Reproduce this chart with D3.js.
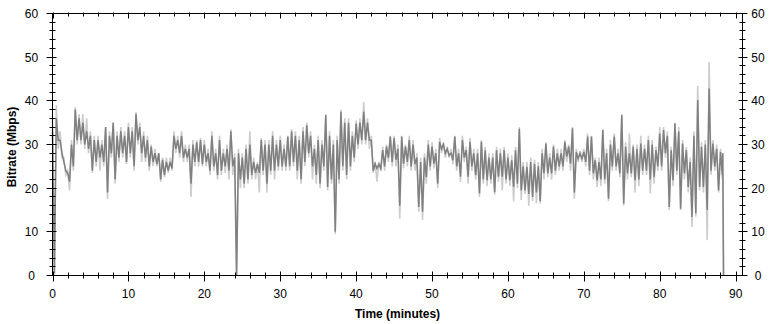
<!DOCTYPE html>
<html>
<head>
<meta charset="utf-8">
<script src="https://cdn.jsdelivr.net/npm/d3@7/dist/d3.min.js"></script>
<style>
  html, body { margin: 0; padding: 0; background: #fff; }
  svg { display: block; }
  .tick-label { font-family: "Liberation Sans", Arial, sans-serif; font-size: 12px; fill: #000; }
  .axis-title { font-family: "Liberation Sans", Arial, sans-serif; font-size: 12px; font-weight: bold; fill: #000; }
</style>
</head>
<body>
<div id="chart"></div>
<script>
// bitrate trace — dark = bitrate, light = short-term peaks behind it
// one entry per half minute, starting at minute 0

var sampleStep = 0.5;

var bitrateHigh = [
  33, 36, 31, 26, 23.5, 30, 38, 36, 35, 33,
  32, 31, 31, 30, 34, 32, 35, 32, 33, 32,
  34, 33, 37, 34, 32, 31, 29.5, 28, 28, 26.5,
  26, 26, 32, 31, 32, 29, 29, 30, 30.5, 31,
  30, 28, 32, 28, 31, 28, 29, 33, 27, 28,
  27, 29, 30, 26, 25.5, 31, 30, 30, 32, 30,
  31, 29, 31.8, 33, 32, 31, 33, 34.4, 32, 29,
  31, 30, 36.7, 32, 30, 31, 37.5, 35, 35, 32,
  34.8, 35, 37.5, 35, 31, 25.6, 25.5, 28.7, 29.5, 31.8,
  31.5, 29, 31.8, 29.5, 31, 30, 27, 26, 27, 30,
  29.5, 28, 30.6, 30, 29, 28, 31.8, 28, 31, 28.7,
  30.6, 28, 28, 30.6, 28.7, 27, 27, 28.7, 28, 28.7,
  27, 26.4, 28.7, 33.6, 25, 24.9, 26, 25.6, 25, 28,
  30.2, 27, 29.5, 28, 28, 30.6, 29.5, 33.7, 28.3, 28,
  28.3, 31.8, 31.8, 26.4, 26, 33.3, 28, 30, 31.8, 28,
  36.7, 29.5, 28, 29.5, 29, 30.2, 29, 31, 30, 28.7,
  32.5, 33.3, 32, 28.7, 34.8, 33, 30.2, 28.7, 26, 32,
  40.2, 29.5, 30, 42.8, 30.2, 29, 28.3
];

var bitrateLow = [
  0.5, 31, 28, 24, 21.5, 25, 31, 31, 30, 29,
  24, 26, 27, 26, 19, 28, 22, 27, 28, 26,
  28, 25, 31, 28, 27, 25, 26, 25.5, 22, 23,
  24, 24.5, 29, 28, 27, 27, 21, 26, 26, 25.5,
  26, 24, 25, 23, 24, 25, 24, 25, 0, 22,
  21, 22, 23, 23.5, 23.5, 24, 21, 24, 24, 25,
  25, 25, 25, 26, 24, 22, 26, 28, 25, 23,
  21, 25, 20.3, 22, 10, 22, 25, 23, 25, 27,
  30, 31, 31, 31, 24, 24.5, 24.5, 25, 27, 26,
  26.5, 16, 25.6, 26, 25, 25.5, 15.7, 14.6, 22.5, 25,
  25.6, 21, 29, 28, 27.5, 26.4, 25, 22.6, 27, 22.6,
  25, 23, 18.8, 22, 21.8, 22, 19.1, 22.6, 22.6, 22,
  21.8, 20.3, 21, 19.5, 19.5, 18.7, 18, 19, 17, 23.4,
  23.4, 23.4, 24, 25, 25, 27.2, 25.6, 19, 26.8, 26.8,
  26, 24, 23.4, 21.8, 22, 22, 17.6, 25, 25, 23.4,
  16.5, 23.4, 23.4, 21.8, 22, 24, 24, 22, 22.5, 25,
  25, 28, 15.7, 21.8, 24, 15.3, 23.4, 20.3, 13.4, 14.2,
  20.3, 20.3, 15, 24, 25, 19.5, 23
];

var peakHigh = [
  36, 39, 33, 27, 24, 31, 38.5, 37, 37, 36,
  33, 32, 32, 31, 34, 33, 35, 33, 34, 33,
  35, 34, 37.5, 35, 33, 32, 30, 29, 28, 27,
  27, 27, 33, 32, 33, 30, 30, 31, 31, 31.5,
  31, 29, 33, 29, 32, 29, 30, 33.5, 28, 29,
  28, 30, 33, 27, 26, 31.5, 31, 31, 33, 31,
  32, 30, 32, 33.5, 33, 32, 34, 35, 33, 30,
  32, 31, 37, 33, 31, 32, 38, 36, 36, 33,
  35.5, 36, 39.8, 36, 32, 26, 26, 29.5, 30, 32,
  32, 30, 32, 30, 32, 31, 28, 27, 28, 31,
  30.5, 29, 31.5, 30.5, 29.5, 29, 32, 29, 32, 29.5,
  31.5, 29, 29, 31, 29.5, 28, 28, 29.5, 29, 29.5,
  28, 27.5, 29.5, 34, 26, 26, 27, 26.5, 26, 29,
  30.5, 28, 30, 29, 29, 31, 30, 34, 29, 28.5,
  29, 32.5, 32, 27, 27, 33.5, 29, 31, 32.5, 29,
  37, 30.5, 32.5, 30, 30, 32, 30, 32, 31, 29.5,
  34, 34, 33, 29.5, 35, 34, 31, 29.5, 27, 33,
  43.4, 30.5, 31, 48.9, 31, 30, 29
];

var peakLow = [
  0, 29, 27, 23, 19.5, 24, 30, 30, 29, 28,
  23.5, 25, 24, 25, 17.5, 27, 21, 26, 27, 25.5,
  27, 24, 30, 26, 26, 24, 25, 25, 21.5, 22.5,
  23.5, 24, 28, 27, 26, 26, 18, 25, 25, 25,
  25, 23, 24, 22, 23, 23.5, 22, 23, 0, 20,
  20, 21, 22, 22, 19, 23, 19, 23, 22, 24,
  24, 24, 24, 25, 22, 21, 25, 27, 22, 21,
  20, 24, 19.5, 21, 9.5, 21, 24, 22, 24, 26,
  29, 30, 30, 29, 23.5, 21.5, 24, 24, 26, 25,
  25, 13, 24.5, 25, 24, 24, 14.6, 12.7, 21, 24,
  24.5, 20, 28, 27, 27, 25.5, 24, 21.5, 26, 21,
  24, 22, 18, 21, 20.5, 21, 18.5, 21.5, 19.5, 21,
  20.5, 17, 20, 17.3, 18.7, 16, 17, 16.5, 16.5, 22,
  22.5, 22, 23, 24, 24, 26, 24, 17.6, 26, 26,
  25, 23, 22, 20.3, 20.5, 21, 17, 24, 24, 22.5,
  16, 22, 22.5, 19, 20.5, 23, 23, 18.8, 21, 24,
  24, 27, 15, 20.5, 23, 15, 22, 19, 11.1, 13.5,
  19.5, 19, 8.1, 23, 24, 19, 22
];

// trace ends with a drop to zero
var tailMinutes = [88.3, 88.4];
var tailValues = [28, 0];

var xTicks = [0, 10, 20, 30, 40, 50, 60, 70, 80, 90];
var yTicks = [0, 10, 20, 30, 40, 50, 60];

var WIDTH = 774, HEIGHT = 324;
var LEFT = 52.5, RIGHT = 742.5, TOP = 13.5, BOTTOM = 275.5;

function buildTrace(high, low){
  var pts = [];
  high.forEach(function(h, i){
    pts.push([i * sampleStep, h]);
    pts.push([i * sampleStep + sampleStep / 2, low[i]]);
  });
  tailMinutes.forEach(function(t, i){ pts.push([t, tailValues[i]]); });
  return pts;
}

function render(){
  var svg = d3.select('#chart').append('svg')
    .attr('width', WIDTH)
    .attr('height', HEIGHT);

  var x = d3.scaleLinear().domain([0, 90.9]).range([LEFT, RIGHT]);
  var y = d3.scaleLinear().domain([0, 60]).range([BOTTOM, TOP]);

  var line = d3.line()
    .x(function(d){ return x(d[0]); })
    .y(function(d){ return y(d[1]); });

  // light peaks first, dark bitrate on top
  svg.append('path')
    .datum(buildTrace(peakHigh, peakLow))
    .attr('d', line)
    .attr('fill', 'none')
    .attr('stroke', '#cccccc')
    .attr('stroke-width', 1.6);

  svg.append('path')
    .datum(buildTrace(bitrateHigh, bitrateLow))
    .attr('d', line)
    .attr('fill', 'none')
    .attr('stroke', '#808080')
    .attr('stroke-width', 1.5);

  // frame
  svg.append('rect')
    .attr('x', LEFT).attr('y', TOP)
    .attr('width', RIGHT - LEFT).attr('height', BOTTOM - TOP)
    .attr('fill', 'none').attr('stroke', '#000').attr('stroke-width', 1);

  var g = svg.append('g').attr('stroke', '#000').attr('stroke-width', 1);

  // x ticks: major every 10, minor every 2
  d3.range(0, 91, 2).forEach(function(v){
    var major = v % 10 === 0;
    var px = Math.round(x(v)) + 0.5;
    g.append('line').attr('x1', px).attr('x2', px)
      .attr('y1', BOTTOM - (major ? 4 : 3)).attr('y2', BOTTOM + (major ? 6 : 3));
    g.append('line').attr('x1', px).attr('x2', px)
      .attr('y1', TOP - 1).attr('y2', TOP + (major ? 5 : 3));
  });

  // y ticks: major every 10, minor every 2
  d3.range(0, 61, 2).forEach(function(v){
    var major = v % 10 === 0;
    var py = Math.round(y(v) - 0.5) + 0.5;
    g.append('line').attr('y1', py).attr('y2', py)
      .attr('x1', LEFT - (major ? 6 : 3)).attr('x2', LEFT + (major ? 4 : 3));
    g.append('line').attr('y1', py).attr('y2', py)
      .attr('x1', RIGHT - (major ? 4 : 3)).attr('x2', RIGHT + (major ? 5 : 3));
  });

  svg.selectAll('.xl').data(xTicks).enter().append('text')
    .attr('class', 'tick-label')
    .attr('x', function(d){ return x(d); })
    .attr('y', 298)
    .attr('text-anchor', 'middle')
    .text(function(d){ return d; });

  svg.selectAll('.yl').data(yTicks).enter().append('text')
    .attr('class', 'tick-label')
    .attr('x', 31.5)
    .attr('y', function(d){ return y(d) + 4.5; })
    .attr('text-anchor', 'middle')
    .text(function(d){ return d; });

  svg.selectAll('.yr').data(yTicks).enter().append('text')
    .attr('class', 'tick-label')
    .attr('x', 758)
    .attr('y', function(d){ return y(d) + 4.5; })
    .attr('text-anchor', 'middle')
    .text(function(d){ return d; });

  svg.append('text')
    .attr('class', 'axis-title')
    .attr('x', (LEFT + RIGHT) / 2)
    .attr('y', 318)
    .attr('text-anchor', 'middle')
    .text('Time (minutes)');

  svg.append('text')
    .attr('class', 'axis-title')
    .attr('transform', 'translate(16,147) rotate(-90)')
    .attr('text-anchor', 'middle')
    .text('Bitrate (Mbps)');
}

render();
</script>
</body>
</html>
